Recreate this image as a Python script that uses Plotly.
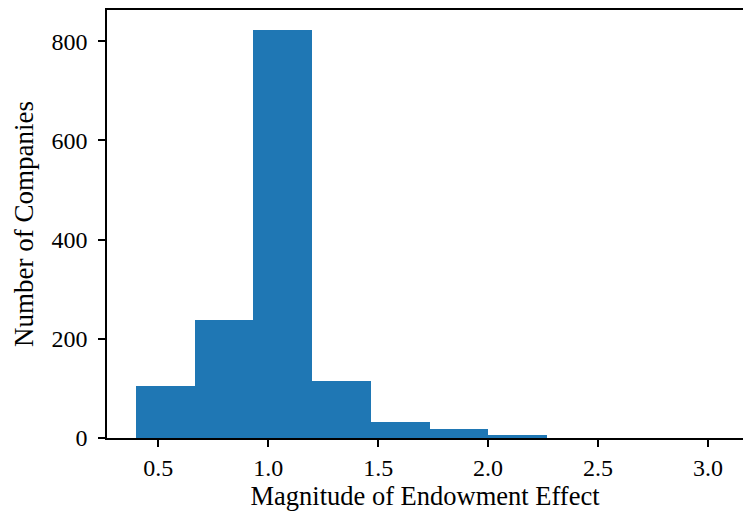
import plotly.graph_objects as go

bin_left = [0.4, 0.667, 0.933, 1.2, 1.467, 1.733, 2.0, 2.267, 2.533, 2.8]
bin_width = 0.2667
counts = [104, 237, 823, 114, 32, 18, 7, 0, 0, 0]
x_ticks = [0.5, 1.0, 1.5, 2.0, 2.5, 3.0]
x_tick_labels = ["0.5", "1.0", "1.5", "2.0", "2.5", "3.0"]
y_ticks = [0, 200, 400, 600, 800]

centers = [b + bin_width / 2 for b in bin_left]

fig = go.Figure(go.Bar(
    x=centers, y=counts, width=[bin_width] * len(counts),
    marker=dict(color="#1f77b4", line=dict(width=0)),
))

font = dict(family="Liberation Serif, Times New Roman, serif", size=24, color="black")

fig.update_layout(
    width=743, height=516,
    margin=dict(l=107, r=0, t=10, b=78, autoexpand=False),
    plot_bgcolor="white", paper_bgcolor="white",
    font=font, showlegend=False, bargap=0,
    xaxis=dict(
        range=[0.267, 3.159], tickvals=x_ticks, ticktext=x_tick_labels,
        showgrid=False, zeroline=False, showline=True, linecolor="black", linewidth=1.6,
        mirror=True, ticks="outside", ticklen=7, tickwidth=1.6, tickcolor="black",
        automargin=False,
        title=dict(text="Magnitude of Endowment Effect", font=dict(size=26.5), standoff=5),
    ),
    yaxis=dict(
        range=[0, 863], tickvals=y_ticks,
        showgrid=False, zeroline=False, showline=True, linecolor="black", linewidth=1.6,
        ticks="outside", ticklen=7, tickwidth=1.6, tickcolor="black",
        ticklabelstandoff=6, automargin=False,
        title=dict(text="Number of Companies", font=dict(size=27), standoff=10),
    ),
)

fig.write_html("out.html", config={"displayModeBar": False},
               post_script="document.body.style.margin='0';")
